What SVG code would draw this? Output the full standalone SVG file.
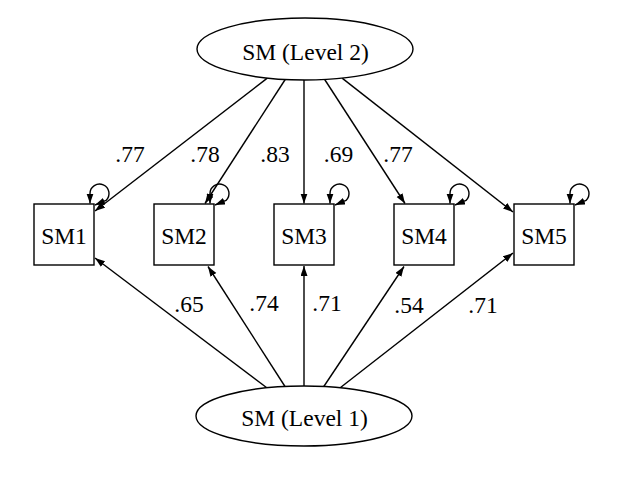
<svg xmlns="http://www.w3.org/2000/svg" width="619" height="479" viewBox="0 0 619 479">
<style>
text{font-family:"Liberation Serif","Times New Roman",serif;font-size:23.5px;fill:#000;text-anchor:middle}
.n{fill:#fff;stroke:#000;stroke-width:1.4}
.e{fill:none;stroke:#000;stroke-width:1.4;marker-end:url(#ah)}
.l{fill:none;stroke:#000;stroke-width:1.4;marker-start:url(#ah);marker-end:url(#ah)}
</style>
<defs>
<marker id="ah" markerUnits="userSpaceOnUse" markerWidth="11" markerHeight="8" refX="10" refY="3.5" orient="auto-start-reverse">
<path d="M0,0 L10,3.5 L0,7 z" fill="#000"/>
</marker>
</defs>
<rect width="619" height="479" fill="#fff"/>
<g id="connectors">
<line class="e" x1="267.3" y1="78.1" x2="95" y2="211"/>
<line class="e" x1="285.2" y1="79.5" x2="205" y2="203.5"/>
<line class="e" x1="304" y1="80" x2="304" y2="203.5"/>
<line class="e" x1="324.7" y1="79.5" x2="405" y2="203.5"/>
<line class="e" x1="342.1" y1="78.1" x2="513" y2="212"/>
<line class="e" x1="266.8" y1="387.8" x2="95" y2="258"/>
<line class="e" x1="285" y1="386.5" x2="208" y2="266.5"/>
<line class="e" x1="304" y1="386" x2="304" y2="266"/>
<line class="e" x1="323.8" y1="386.5" x2="404" y2="266.5"/>
<line class="e" x1="340.2" y1="387.7" x2="513" y2="253"/>
<path class="l" d="M90,203.5 L90,193.5 A9.5 9.5 0 1 1 106,200.5 L95,205"/>
<path class="l" d="M210,203.5 L210,193.5 A9.5 9.5 0 1 1 226,200.5 L215,205"/>
<path class="l" d="M330,203.5 L330,193.5 A9.5 9.5 0 1 1 346,200.5 L335,205"/>
<path class="l" d="M450,203.5 L450,193.5 A9.5 9.5 0 1 1 466,200.5 L455,205"/>
<path class="l" d="M570,203.5 L570,193.5 A9.5 9.5 0 1 1 586,200.5 L575,205"/>
<text x="130" y="162">.77</text>
<text x="205" y="162">.78</text>
<text x="275" y="162">.83</text>
<text x="338.5" y="162">.69</text>
<text x="398" y="162">.77</text>
<text x="189" y="312">.65</text>
<text x="264" y="311">.74</text>
<text x="327" y="311">.71</text>
<text x="409" y="313">.54</text>
<text x="483" y="313">.71</text>
</g>
<g id="level2">
<ellipse class="n" cx="305" cy="49" rx="108" ry="31"/>
<text x="305.5" y="60">SM (Level 2)</text>
</g>
<g id="level1">
<ellipse class="n" cx="304" cy="416" rx="108" ry="30"/>
<text x="304.5" y="426">SM (Level 1)</text>
</g>
<g id="sm1"><rect class="n" x="34" y="204" width="60" height="61"/><text x="64" y="244">SM1</text></g>
<g id="sm2"><rect class="n" x="154" y="204" width="60" height="61"/><text x="184" y="244">SM2</text></g>
<g id="sm3"><rect class="n" x="274" y="204" width="60" height="61"/><text x="304" y="244">SM3</text></g>
<g id="sm4"><rect class="n" x="394" y="204" width="60" height="61"/><text x="424" y="244">SM4</text></g>
<g id="sm5"><rect class="n" x="514" y="204" width="60" height="61"/><text x="544" y="244">SM5</text></g>
</svg>
